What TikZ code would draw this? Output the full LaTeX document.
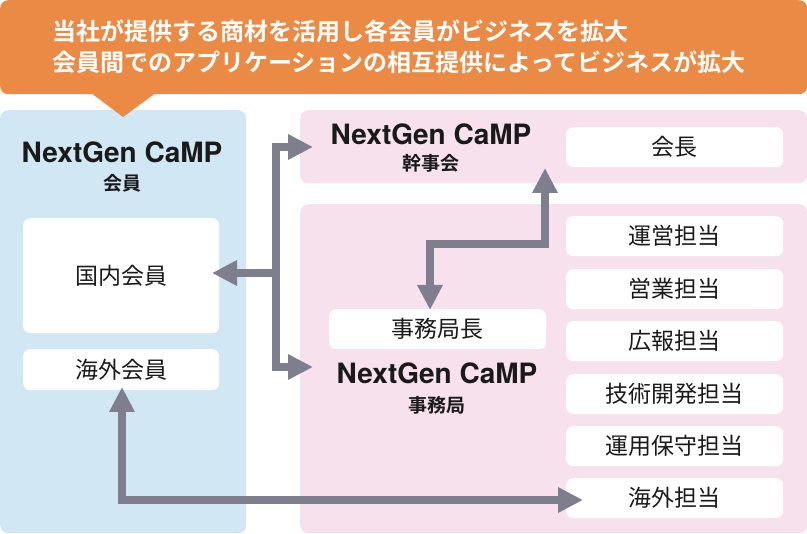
\documentclass[tikz,border=0pt]{standalone}
\usepackage{fontspec}
\setmainfont{Noto Sans CJK JP}[BoldFont={Noto Sans CJK JP Bold}]
\newfontfamily\heros{TeX Gyre Heros}
\usetikzlibrary{arrows.meta}
\definecolor{bannerorange}{HTML}{EB8A45}
\definecolor{memberblue}{HTML}{D1E7F4}
\definecolor{officepink}{HTML}{F7E1EC}
\definecolor{arrowgray}{HTML}{7E7E8E}
\definecolor{txt}{HTML}{1A1A1A}
\tikzset{
  panel/.style={rounded corners=8pt, inner sep=0pt, anchor=north west},
  wbox/.style={fill=white, rounded corners=7pt, inner sep=0pt, minimum height=40pt, minimum width=217pt, text=txt, font=\fontsize{23}{26}\selectfont},
  brand/.style={font=\heros\bfseries\fontsize{28}{30}\selectfont, text=txt, inner sep=0pt},
  sub/.style={font=\bfseries\fontsize{19}{22}\selectfont, text=txt, inner sep=0pt},
  headtip/.tip={Triangle[length=25pt,width=24pt]},
  conn/.style={draw=arrowgray, line width=7.5pt, line join=miter, -headtip},
  dconn/.style={draw=arrowgray, line width=7.5pt, line join=miter, headtip-headtip}
}
\begin{document}
\begin{tikzpicture}[x=1pt,y=-1pt]
\useasboundingbox (0,0) rectangle (807,534);
% panels
\node[panel, fill=memberblue, minimum width=246pt, minimum height=423pt] (member) at (0,110) {};
\node[panel, fill=officepink, minimum width=507pt, minimum height=73pt] (kanji) at (300,110) {};
\node[panel, fill=officepink, minimum width=507pt, minimum height=329pt] (jimu) at (300,204) {};
% banner
\node[panel, fill=bannerorange, minimum width=807pt, minimum height=94pt] (banner) at (0,0) {};
\fill[bannerorange] (87,90) -- (160,90) -- (123,117) -- cycle;
\node[anchor=west, inner sep=0pt, text=white, font=\bfseries\fontsize{24}{28}\selectfont] (line1) at (52,31) {当社が提供する商材を活用し各会員がビジネスを拡大};
\node[anchor=west, inner sep=0pt, text=white, font=\bfseries\fontsize{24}{28}\selectfont] (line2) at (52,62) {会員間でのアプリケーションの相互提供によってビジネスが拡大};
% member side
\node[brand] (mtitle) at (122,152) {NextGen CaMP};
\node[sub] (msub) at (122,183) {会員};
\node[wbox, minimum width=196pt, minimum height=115pt, anchor=north west] (kokunai) at (23,218) {国内会員};
\node[wbox, minimum width=196pt, minimum height=41pt, anchor=north west] (kaigaim) at (23,349) {海外会員};
% kanjikai
\node[brand] (ktitle) at (431,134) {NextGen CaMP};
\node[sub] (ksub) at (431,163) {幹事会};
\node[wbox, anchor=north west] (kaicho) at (566,127) {会長};
% jimukyoku
\node[wbox, minimum width=217pt, anchor=north west] (jimucho) at (329,309) {事務局長};
\node[brand] (jtitle) at (437,373) {NextGen CaMP};
\node[sub] (jsub) at (437,405) {事務局};
\node[wbox, anchor=north west] (unei) at (566,216) {運営担当};
\node[wbox, anchor=north west] (eigyo) at (566,269) {営業担当};
\node[wbox, anchor=north west] (koho) at (566,321) {広報担当};
\node[wbox, anchor=north west] (gijutsu) at (566,374) {技術開発担当};
\node[wbox, anchor=north west] (unyo) at (566,426) {運用保守担当};
\node[wbox, anchor=north west] (kaigai) at (566,478) {海外担当};
% connectors
\coordinate (kIn) at (313,147);
\coordinate (jT) at (276,147);
\coordinate (jB) at (276,367);
\coordinate (jIn) at (313,367);
\coordinate (jM) at (276,273);
\coordinate (kokIn) at (212,273);
\draw[dconn] (kIn) -- (jT) -- (jB) -- (jIn);
\draw[conn] (jM) -- (kokIn);
\coordinate (chIn) at (545,168);
\coordinate (c1) at (545,244);
\coordinate (c2) at (430,244);
\coordinate (jcIn) at (430,310);
\draw[dconn] (chIn) -- (c1) -- (c2) -- (jcIn);
\coordinate (kmIn) at (122,387);
\coordinate (c3) at (122,500);
\coordinate (kgIn) at (583,500);
\draw[dconn] (kmIn) -- (c3) -- (kgIn);
\end{tikzpicture}
\end{document}
